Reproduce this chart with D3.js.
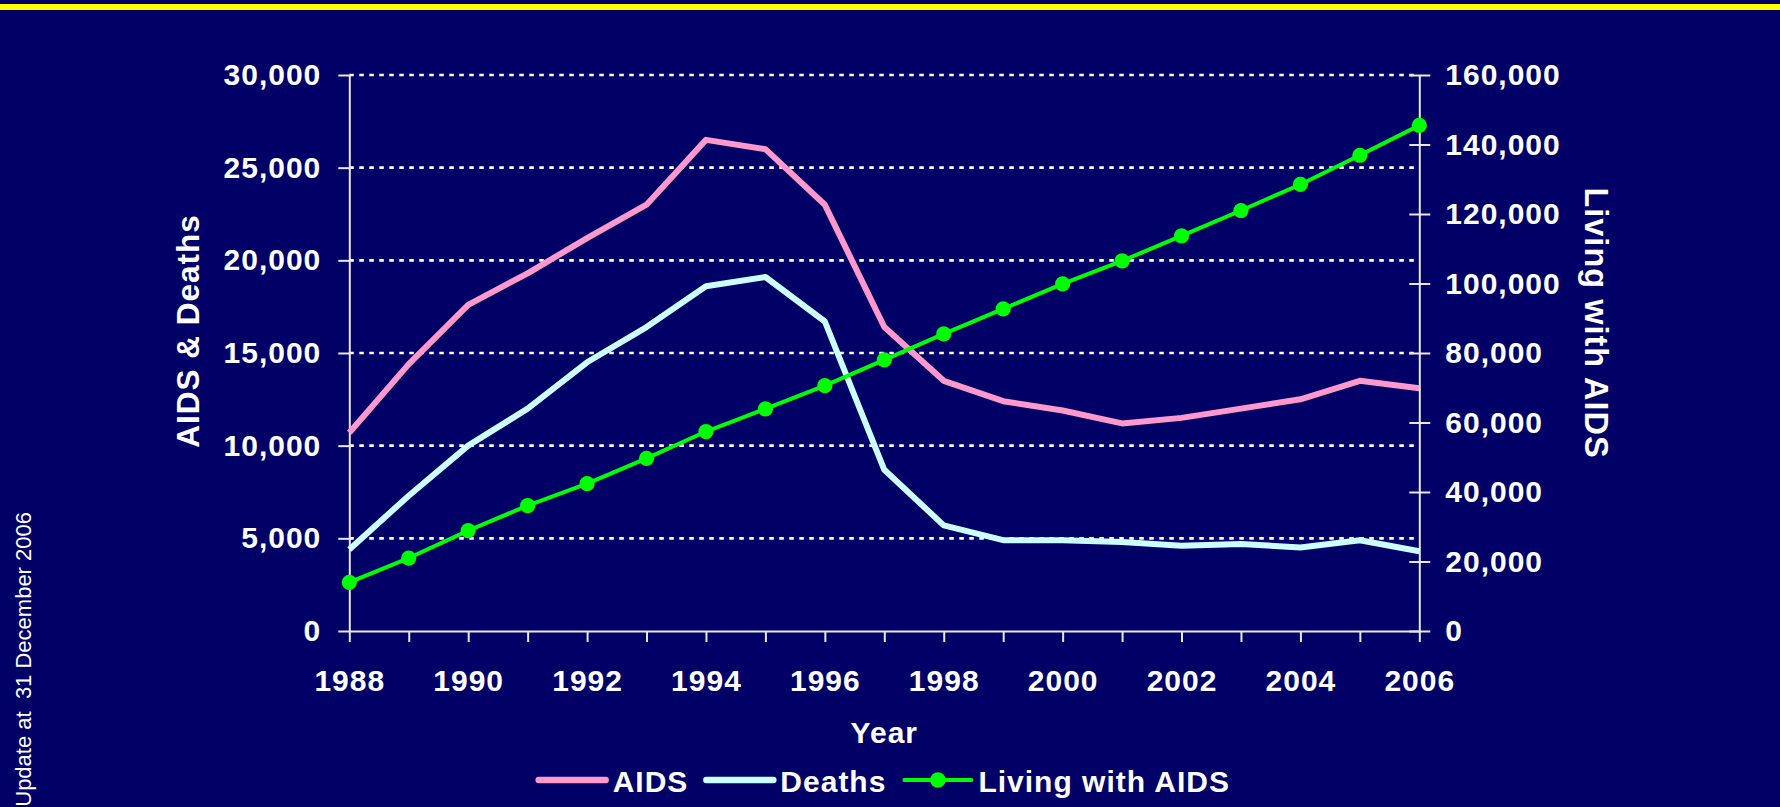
<!DOCTYPE html>
<html>
<head>
<meta charset="utf-8">
<script src="https://cdn.jsdelivr.net/npm/d3@7"></script>
<style>
  html, body { margin: 0; padding: 0; background: #000066; overflow: hidden; }
  svg { display: block; }
  text { font-family: "Liberation Sans", Arial, sans-serif; fill: #ffffff; }
</style>
</head>
<body>
<svg id="chart" width="1780" height="807"></svg>
<script>
// Annual figures, 1988–2006
const years = [1988, 1989, 1990, 1991, 1992, 1993, 1994, 1995, 1996, 1997,
               1998, 1999, 2000, 2001, 2002, 2003, 2004, 2005, 2006];
const aids = [10700, 14400, 17600, 19300, 21200, 23000, 26500, 26000, 23000, 16400,
              13500, 12400, 11900, 11200, 11500, 12000, 12500, 13500, 13100];
const deaths = [4400, 7300, 10000, 12000, 14500, 16400, 18600, 19100, 16700, 8700,
                5700, 4900, 4900, 4800, 4600, 4700, 4500, 4900, 4300];
const living = [14000, 21000, 28900, 36100, 42400, 49700, 57400, 63900, 70600, 78000,
                85500, 92700, 99900, 106500, 113700, 121000, 128500, 136900, 145500];

const leftTicks = [0, 5000, 10000, 15000, 20000, 25000, 30000];
const rightTicks = [0, 20000, 40000, 60000, 80000, 100000, 120000, 140000, 160000];
const gridTicks = [5000, 10000, 15000, 20000, 25000, 30000];

const seriesNames = ["AIDS", "Deaths", "Living with AIDS"];
const seriesColors = ["#ff99cc", "#ccffff", "#00ff00"];

const svg = d3.select("#chart");
const W = 1780, H = 807;
const plot = { left: 349.3, right: 1419.3, top: 75, bottom: 631 };

// background and top rule
svg.append("rect").attr("width", W).attr("height", H).attr("fill", "#000066");
svg.append("rect").attr("x", 0).attr("y", 4).attr("width", W).attr("height", 6).attr("fill", "#ffff00");

const x = d3.scaleLinear().domain([1988, 2006]).range([plot.left, plot.right]);
const yL = d3.scaleLinear().domain([0, 30000]).range([plot.bottom, plot.top]);
const yR = d3.scaleLinear().domain([0, 160000]).range([plot.bottom, plot.top]);

const fmt = d3.format(",");

// dotted gridlines
svg.append("g").selectAll("line").data(gridTicks).join("line")
  .attr("x1", plot.left).attr("x2", plot.right)
  .attr("y1", d => yL(d)).attr("y2", d => yL(d))
  .attr("stroke", "#ffffff").attr("stroke-width", 2.6)
  .attr("stroke-dasharray", "4.5,5.5");

function styleAxis(g) {
  g.selectAll("path.domain").attr("stroke", "#e8e8e8").attr("stroke-width", 2);
  g.selectAll(".tick line").attr("stroke", "#e8e8e8").attr("stroke-width", 2);
  g.selectAll("text")
    .attr("fill", "#ffffff")
    .style("font-size", "30px")
    .style("font-weight", "bold")
    .style("letter-spacing", "1px")
    .attr("font-family", null);
}

// left axis
svg.append("g")
  .attr("transform", `translate(${plot.left},0)`)
  .call(d3.axisLeft(yL).tickValues(leftTicks).tickFormat(fmt).tickSize(11).tickSizeOuter(0).tickPadding(17))
  .call(styleAxis);

// right axis (ticks cross the line)
const gR = svg.append("g")
  .attr("transform", `translate(${plot.right},0)`)
  .call(d3.axisRight(yR).tickValues(rightTicks).tickFormat(fmt).tickSize(11).tickSizeOuter(0).tickPadding(15))
  .call(styleAxis);
gR.selectAll(".tick line").attr("x1", -10);

// bottom axis
svg.append("g")
  .attr("transform", `translate(0,${plot.bottom})`)
  .call(d3.axisBottom(x).tickValues(years).tickFormat(d => d % 2 === 0 ? String(d) : "")
        .tickSize(11).tickSizeOuter(0).tickPadding(28))
  .call(styleAxis);

// series lines
const lineL = (vals) => d3.line().x((d, i) => x(years[i])).y(d => yL(d))(vals);
const lineR = (vals) => d3.line().x((d, i) => x(years[i])).y(d => yR(d))(vals);

svg.append("path").attr("d", lineL(aids))
  .attr("fill", "none").attr("stroke", seriesColors[0]).attr("stroke-width", 6)
  .attr("stroke-linejoin", "round");
svg.append("path").attr("d", lineL(deaths))
  .attr("fill", "none").attr("stroke", seriesColors[1]).attr("stroke-width", 6)
  .attr("stroke-linejoin", "round");
svg.append("path").attr("d", lineR(living))
  .attr("fill", "none").attr("stroke", seriesColors[2]).attr("stroke-width", 4)
  .attr("stroke-linejoin", "round");
svg.append("g").selectAll("circle").data(living).join("circle")
  .attr("cx", (d, i) => x(years[i])).attr("cy", d => yR(d))
  .attr("r", 7.6).attr("fill", seriesColors[2]);

// axis titles
const titleStyle = (sel, size = 30) => sel.style("font-size", size + "px").style("font-weight", "bold").style("letter-spacing", "1px");
svg.append("text")
  .attr("transform", "translate(199,331) rotate(-90)")
  .attr("text-anchor", "middle").text("AIDS & Deaths").call(titleStyle, 31.5);
svg.append("text")
  .attr("transform", "translate(1585,323) rotate(90)")
  .attr("text-anchor", "middle").text("Living with AIDS").call(titleStyle, 32.5);
svg.append("text")
  .attr("x", (plot.left + plot.right) / 2).attr("y", 742.5)
  .attr("text-anchor", "middle").text("Year").call(titleStyle);

// side note
svg.append("text")
  .attr("transform", "translate(31,512) rotate(-90)")
  .attr("text-anchor", "end")
  .style("font-size", "22px")
  .style("white-space", "pre")
  .text("Update at  31 December 2006");

// legend
const legend = svg.append("g");
const lineLen = 67, textGap = 7, itemGap = 18, legY = 780;
let cursor = 0;
seriesNames.forEach((name, i) => {
  const item = legend.append("g").attr("transform", `translate(${cursor},0)`);
  item.append("line")
    .attr("x1", 0).attr("x2", lineLen).attr("y1", legY).attr("y2", legY)
    .attr("stroke", seriesColors[i]).attr("stroke-width", i === 2 ? 4 : 6.5)
    .attr("stroke-linecap", "round");
  if (i === 2) {
    item.append("circle").attr("cx", lineLen / 2).attr("cy", legY).attr("r", 7.8).attr("fill", seriesColors[i]);
  }
  const t = item.append("text")
    .attr("x", lineLen + textGap).attr("y", legY + 11.5)
    .text(name).call(titleStyle);
  cursor += lineLen + textGap + t.node().getComputedTextLength() + itemGap;
});
const legWidth = cursor - itemGap;
legend.attr("transform", `translate(${(plot.left + plot.right) / 2 - legWidth / 2},0)`);
</script>
</body>
</html>
